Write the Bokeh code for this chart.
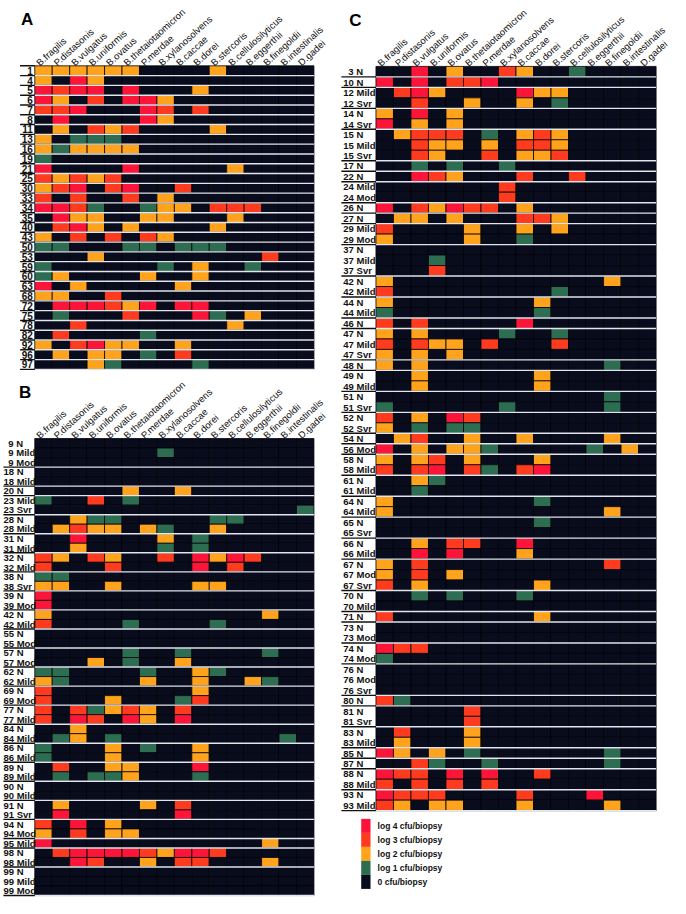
from bokeh.plotting import figure
from bokeh.models import Range1d
from bokeh.core.properties import value
from bokeh.embed import file_html
from bokeh.resources import INLINE

# ---------------- data ----------------
species = ["B.fragilis", "P.distasonis", "B.vulgatus", "B.uniformis", "B.ovatus",
           "B.thetaiotaomicron", "P.merdae", "B.xylanosolvens", "B.caccae", "B.dorei",
           "B.stercoris", "B.cellulosilyticus", "B.eggerthii", "B.finegoldii",
           "B.intestinalis", "D.gadei"]

# level per species (0 = none ... 4 = log 4 cfu/biopsy)
a_rows = ["1", "4", "5", "6", "7", "8", "11", "13", "16", "19", "21", "25", "30", "33",
          "34", "35", "40", "43", "50", "53", "59", "60", "63", "68", "72", "75", "78",
          "82", "92", "96", "97"]
a_vals = ["2222220000200000", "2042000000000000", "4344040002000000", "4203044200000000",
          "3340004303000000", "0400004200000000", "0203230000200000", "2011100000000000",
          "2122220000000000", "1000000000000000", "4000040000020000", "3232300000000000",
          "2340340030000000", "3030030200000000", "4431001220333000", "0422002200020000",
          "0342020000200000", "2030303200000000", "1100011011100000", "0002000000000300",
          "1000000102001000", "1200002002000000", "4020000020000000", "2200300000000000",
          "0444324044000000", "0100030004102000", "0030000000020000", "0300001000000000",
          "2034220020000000", "0202201030000000", "0002100001000000"]

b_rows = ["9 N", "9 Mild", "9 Mod", "18 N", "18 Mild", "20 N", "23 Mild", "23 Svr",
          "28 N", "28 Mild", "31 N", "31 Mild", "32 N", "32 Mild", "38 N", "38 Svr",
          "39 N", "39 Mod", "42 N", "42 Mild", "55 N", "55 Mod", "57 N", "57 Mod",
          "62 N", "62 Mild", "69 N", "69 Mod", "77 N", "77 Mild", "84 N", "84 Mild",
          "86 N", "86 Mild", "89 N", "89 Mild", "90 N", "90 Mild", "91 N", "91 Svr",
          "94 N", "94 Mod", "95 Mild", "98 N", "98 Mild", "99 N", "99 Mild", "99 Mod"]
b_vals = ["0000000000000000", "0000000100000000", "0000000000000000", "0000000000000000",
          "0000000000000000", "0000020020000000", "1003010000000000", "0000000000000001",
          "0021100000110000", "0232202100200000", "0040000201000000", "0020000101000000",
          "3203200304243000", "3000300004030000", "1100000000000000", "2200200002200000",
          "4000000000000000", "4000000000000000", "2000000000000200", "3000010000100000",
          "0000000000000000", "0000000000000000", "0000010010000100", "0002010020000000",
          "1100001002100000", "2100002002002100", "3000000002000000", "3000200013000000",
          "3031232030000000", "3043042040000000", "0020000000000000", "0120100000000010",
          "1000201002000000", "1000200002000000", "0300220004000000", "0101120001000000",
          "0000000000000000", "0000000000000000", "0200002030000000", "0400000040000000",
          "3040200000000000", "2030220000000000", "4000000000000200", "0344443244300000",
          "0043002033000200", "0000000000000000", "0000000000000000", "0000000000000000"]

c_rows = ["3 N", "10 N", "12 Mild", "12 Svr", "14 N", "14 Svr", "15 N", "15 Mild", "15 Svr",
          "17 N", "22 N", "24 Mild", "24 Mod", "26 N", "27 N", "29 Mild", "29 Mod",
          "37 N", "37 Mild", "37 Svr", "42 N", "42 Mild", "44 N", "44 Mild", "46 N",
          "47 N", "47 Mild", "47 Svr", "48 N", "49 N", "49 Mild", "51 N", "51 Svr",
          "52 N", "52 Svr", "54 N", "56 Mod", "58 N", "58 Mild", "61 N", "61 Mild",
          "64 N", "64 Mild", "65 N", "65 Svr", "66 N", "66 Mild", "67 N", "67 Mod",
          "67 Svr", "70 N", "70 Mild", "71 N", "73 N", "73 Mod", "74 N", "74 Mod",
          "76 N", "76 Mod", "76 Svr", "80 N", "81 N", "81 Svr", "83 N", "83 Mild",
          "85 N", "87 N", "88 N", "88 Mild", "93 N", "93 Mild"]
c_vals = ["0040200320010000", "4040334000000000", "0342000042200000", "0030020020100000",
          "2040200000000000", "4020200000000000", "0233301023200000", "0032202033200000",
          "0032003022300000", "0010100100000000", "0043200030030000", "0000000300000000",
          "0000000300000000", "4032433020000000", "0220200033200000", "3000020020200000",
          "2000020010000000", "0000000000000000", "0001000000000000", "0003000000000000",
          "2000000000000200", "3000000000100000", "2000000002000000", "1000000001000000",
          "3030000040000000", "2020000100100000", "3032203000300000", "2020200000000000",
          "2020000000000100", "0020000002000000", "0020000002000000", "0000000000000100",
          "1000000100000100", "3020430000000000", "2010110000000000", "0230020020000200",
          "4020221000001020", "2023020002000000", "3034031034000000", "0021000000000000",
          "0010000000000000", "2000000001000000", "2000000000000200", "0000000001000000",
          "0000000000000000", "0020330040000000", "0040400020000000", "2030000000000300",
          "2030200000000000", "3020000002000000", "0010100010000000", "0000000000000000",
          "3000000002000000", "0000000000000000", "0000000000000000", "4330000000000000",
          "1000000000000000", "0000000000000000", "0000000000000000", "0000000000000000",
          "3100000000000000", "0000030000000000", "0000030000000000", "0300020000000000",
          "0200020000000000", "4202010000000100", "0031001000000100", "4330404003000000",
          "3030303000000000", "4333000030004000", "3202200020000200"]

legend_levels = [4, 3, 2, 1, 0]
legend_labels = ["log 4 cfu/biopsy", "log 3 cfu/biopsy", "log 2 cfu/biopsy",
                 "log 1 cfu/biopsy", "0 cfu/biopsy"]

# ---------------- style ----------------
level_colors = ["#090c1d", "#2d6e52", "#ffa31c", "#ff3b1f", "#fc1539"]
FONT = value("Liberation Sans")

p = figure(width=670, height=898, x_range=Range1d(0, 684), y_range=Range1d(913, -4),
           toolbar_location=None, output_backend="svg", min_border=0,
           x_axis_location=None, y_axis_location=None)
p.xgrid.visible = False
p.ygrid.visible = False
p.outline_line_color = None
p.background_fill_color = "white"
p.border_fill_color = "white"


def panel(letter, letter_x, rows, vals, x0, x1, y0, y1, mode, lab_x, ul_x, fsize):
    n, m = len(rows), len(species)
    cw, rh = (x1 - x0) / m, (y1 - y0) / n
    xs, ys, cs = [], [], []
    for i, v in enumerate(vals):
        for j, ch in enumerate(v):
            xs.append(x0 + (j + 0.5) * cw)
            ys.append(y0 + (i + 0.5) * rh)
            cs.append(level_colors[int(ch)])
    p.rect(x=xs, y=ys, width=cw, height=rh, fill_color=cs,
           line_color="#020308", line_width=0.8)
    # rotated species names
    p.text(x=[x0 + j * cw + 3 for j in range(m)], y=[y0 - 2] * m, text=species,
           angle=0.74, text_align="left", text_baseline="alphabetic",
           text_font=FONT, text_font_size="9.5px", text_color="#111111")
    # group separators
    pid = [r.split()[0] for r in rows]
    ends = [i for i in range(n) if i == n - 1 or pid[i + 1] != pid[i]]
    sy = [y0 + (i + 1) * rh for i in ends]
    p.segment(x0=[x0] * len(sy), x1=[x1] * len(sy), y0=sy, y1=sy,
              line_color="#e2e5ec", line_width=1.4)
    uy = sy + ([y0] if mode == "right" else [])
    p.segment(x0=[ul_x] * len(uy), x1=[x0] * len(uy), y0=uy, y1=uy,
              line_color="#111111", line_width=1.4)
    # row labels
    ly = [y0 + (i + 0.5) * rh for i in range(n)]
    if mode == "right":
        p.text(x=[x0 - 2] * n, y=ly, text=rows, text_align="right",
               text_baseline="middle", text_font=FONT, text_font_size=fsize,
               text_font_style="bold", text_color="#111111")
    else:
        lx = [lab_x + (5 if len(r.split()[0]) == 1 else 0) for r in rows]
        p.text(x=lx, y=ly, text=rows, text_align="left",
               text_baseline="middle", text_font=FONT, text_font_size=fsize,
               text_font_style="bold", text_color="#111111")
    # panel letter
    p.text(x=[letter_x], y=[y0 - 57], text=[letter], text_align="left",
           text_baseline="top", text_font=FONT, text_font_size="17px",
           text_font_style="bold", text_color="#000000")


panel("A", 21, a_rows, a_vals, 35, 320, 62.7, 372.7, "right", None, 20, "10px")
panel("B", 19, b_rows, b_vals, 35, 320, 443.3, 910, "left", 3, 3, "9.5px")
panel("C", 356, c_rows, c_vals, 383.3, 669.3, 63.3, 823.3, "left", 350, 348, "9.5px")

# legend
sw_h = 14.3
ly0 = 831.7
p.rect(x=[373] * 5, y=[ly0 + (k + 0.5) * sw_h for k in range(5)], width=9.5, height=sw_h,
       fill_color=[level_colors[l] for l in legend_levels], line_color=None)
p.text(x=[385] * 5, y=[ly0 + (k + 0.5) * sw_h + 0.5 for k in range(5)], text=legend_labels,
       text_align="left", text_baseline="middle", text_font=FONT, text_font_size="8.5px",
       text_font_style="bold", text_color="#111111")

open("out.html", "w").write(file_html(p, INLINE))
